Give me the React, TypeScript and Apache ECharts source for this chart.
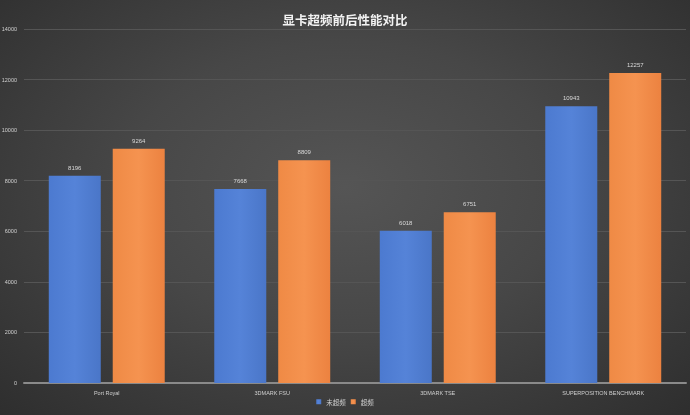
import React, { useEffect, useRef } from "react";
import * as echarts from "echarts";

const categories = ["Port Royal", "3DMARK FSU", "3DMARK TSE", "SUPERPOSITION BENCHMARK"];
const seriesNames = ["未超频", "超频"];
const before = [8196, 7668, 6018, 10943];
const after = [9264, 8809, 6751, 12257];

export default function App() {
  const ref = useRef<HTMLDivElement>(null);
  useEffect(() => {
    document.body.style.margin = "0";
    const chart = echarts.init(ref.current!, null, { renderer: "svg" });
    const label = { show: true, position: "top", color: "#d8d8d8", fontSize: 6, distance: 5, fontFamily: "Liberation Sans" };
    chart.setOption({
      animation: false,
      backgroundColor: "transparent",
      title: {
        text: "显卡超频前后性能对比",
        left: "center",
        top: 8,
        textStyle: { color: "#f2f2f2", fontSize: 12.5, fontWeight: "bold", fontFamily: "Noto Sans CJK SC" },
      },
      legend: {
        bottom: 5,
        left: "center",
        itemWidth: 5,
        itemHeight: 5,
        itemGap: 5,
        icon: "rect",
        textStyle: { color: "#cfcfcf", fontSize: 6.5, fontFamily: "Noto Sans CJK SC" },
        data: seriesNames,
      },
      grid: { left: 24, right: 4, top: 29, bottom: 32, outerBoundsMode: "none", containLabel: false },
      xAxis: {
        type: "category",
        data: categories,
        axisTick: { show: false },
        axisLine: { lineStyle: { color: "#8a8a8a", width: 2 } },
        axisLabel: { color: "#cfcfcf", fontSize: 5.5, margin: 7, fontFamily: "Liberation Sans" },
      },
      yAxis: {
        type: "value",
        min: 0,
        max: 14000,
        interval: 2000,
        axisLabel: {
          color: "#cfcfcf",
          fontSize: 5.5,
          margin: 7,
          fontFamily: "Liberation Sans",
          formatter: (v: number) => String(v),
        },
        splitLine: { lineStyle: { color: "#555555", width: 1 } },
      },
      series: [
        {
          name: seriesNames[0],
          type: "bar",
          data: before,
          barWidth: 52,
          barGap: "23%",
          label,
          itemStyle: {
            color: new echarts.graphic.LinearGradient(0, 0, 1, 0, [
              { offset: 0, color: "#4c7ad0" },
              { offset: 0.5, color: "#5583d8" },
              { offset: 1, color: "#4a76c8" },
            ]),
          },
        },
        {
          name: seriesNames[1],
          type: "bar",
          data: after,
          barWidth: 52,
          label,
          itemStyle: {
            color: new echarts.graphic.LinearGradient(0, 0, 1, 0, [
              { offset: 0, color: "#ef8a45" },
              { offset: 0.5, color: "#f59350" },
              { offset: 1, color: "#ec8240" },
            ]),
          },
        },
      ],
    });
    return () => chart.dispose();
  }, []);
  return (
    <div
      style={{
        position: "fixed",
        left: 0,
        top: 0,
        width: 690,
        height: 415,
        background: "radial-gradient(ellipse at 50% 45%, #555555 0%, #474747 45%, #2e2e2e 100%)",
      }}
    >
      <div ref={ref} style={{ width: 690, height: 415 }} />
    </div>
  );
}
